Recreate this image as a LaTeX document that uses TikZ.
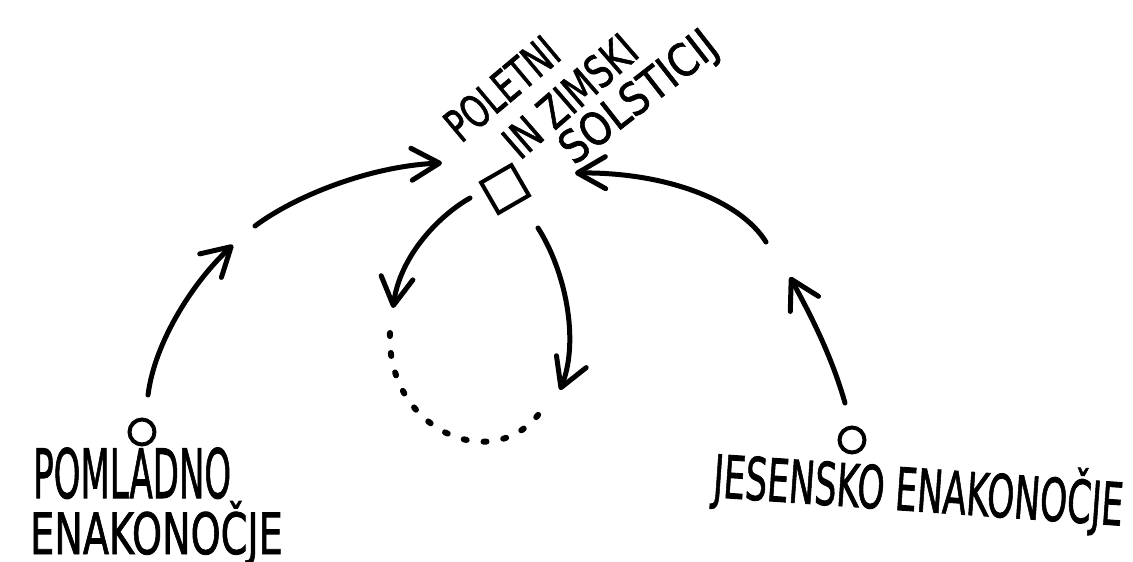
\documentclass[tikz,border=0pt]{standalone}
\usepackage{fontspec}
\usepackage{graphicx}
\usetikzlibrary{arrows.meta}
\newfontfamily\hand[FakeBold=1.5]{DejaVu Sans}
\newcommand\hw[3]{\scalebox{#2}[1]{\hand\fontsize{#1}{#1}\selectfont #3}}
\begin{document}
\begin{tikzpicture}[x=1pt,y=-1pt,
  arc/.style={line width=5pt, line cap=round, -{Straight Barb[length=28pt,width=32pt,round]}},
  dots/.style={line width=6pt, line cap=round, dash pattern=on 3pt off 17pt},
  eq/.style={circle, draw, line width=4pt, minimum size=25pt, inner sep=0pt},
  sol/.style={rectangle, draw, line width=4pt, minimum size=35pt, inner sep=0pt, rotate=30},
  lbl/.style={inner sep=0pt, anchor=base west}]
\fill[white] (0,0) rectangle (1133,562);
\useasboundingbox (0,0) rectangle (1133,562);

% nodes
\node[eq] (spring) at (142,432) {};
\node[eq] (autumn) at (852,440) {};
\node[sol] (sq) at (505,189) {};

% labels
\node[lbl] (pl1) at (33,498) {\hw{68}{0.5}{POMLADNO}};
\node[lbl] (pl2) at (30,554) {\hw{57}{0.67}{ENAKONOČJE}};
\node[lbl, rotate=-4] (jl) at (712,497) {\hw{59}{0.585}{JESENSKO ENAKONOČJE}};
\node[lbl, rotate=40] (t1) at (461,144) {\hw{45}{0.70}{POLETNI}};
\node[lbl, rotate=41] (t2) at (520,161) {\hw{45}{0.745}{IN ZIMSKI}};
\node[lbl, rotate=38] (t3) at (574,166) {\hw{45}{0.86}{SOLSTICIJ}};

% connector ends
\coordinate (a1s) at (148,395); \coordinate (a1e) at (233,245);
\coordinate (a2s) at (255,226); \coordinate (a2e) at (442,163);
\coordinate (a3s) at (766,242); \coordinate (a3e) at (575,173);
\coordinate (a4s) at (845,403); \coordinate (a4e) at (790,277);
\coordinate (a5s) at (470,198); \coordinate (a5e) at (393,308);
\coordinate (a6s) at (538,228); \coordinate (a6e) at (560,390);
\coordinate (d1) at (390,333); \coordinate (d2) at (545,405);

% connectors
\draw[arc] (a1s) .. controls (155,340) and (195,280) .. (a1e);
\draw[arc] (a2s) .. controls (295,196) and (370,166) .. (a2e);
\draw[arc] (a3s) .. controls (740,200) and (665,172) .. (a3e);
\draw[arc] (a4s) .. controls (830,350) and (805,305) .. (a4e);
\draw[arc] (a5s) .. controls (440,215) and (400,255) .. (a5e);
\draw[arc] (a6s) .. controls (565,270) and (580,340) .. (a6e);
\draw[dots] (d1) .. controls (386,432) and (500,480) .. (d2);
\end{tikzpicture}
\end{document}
